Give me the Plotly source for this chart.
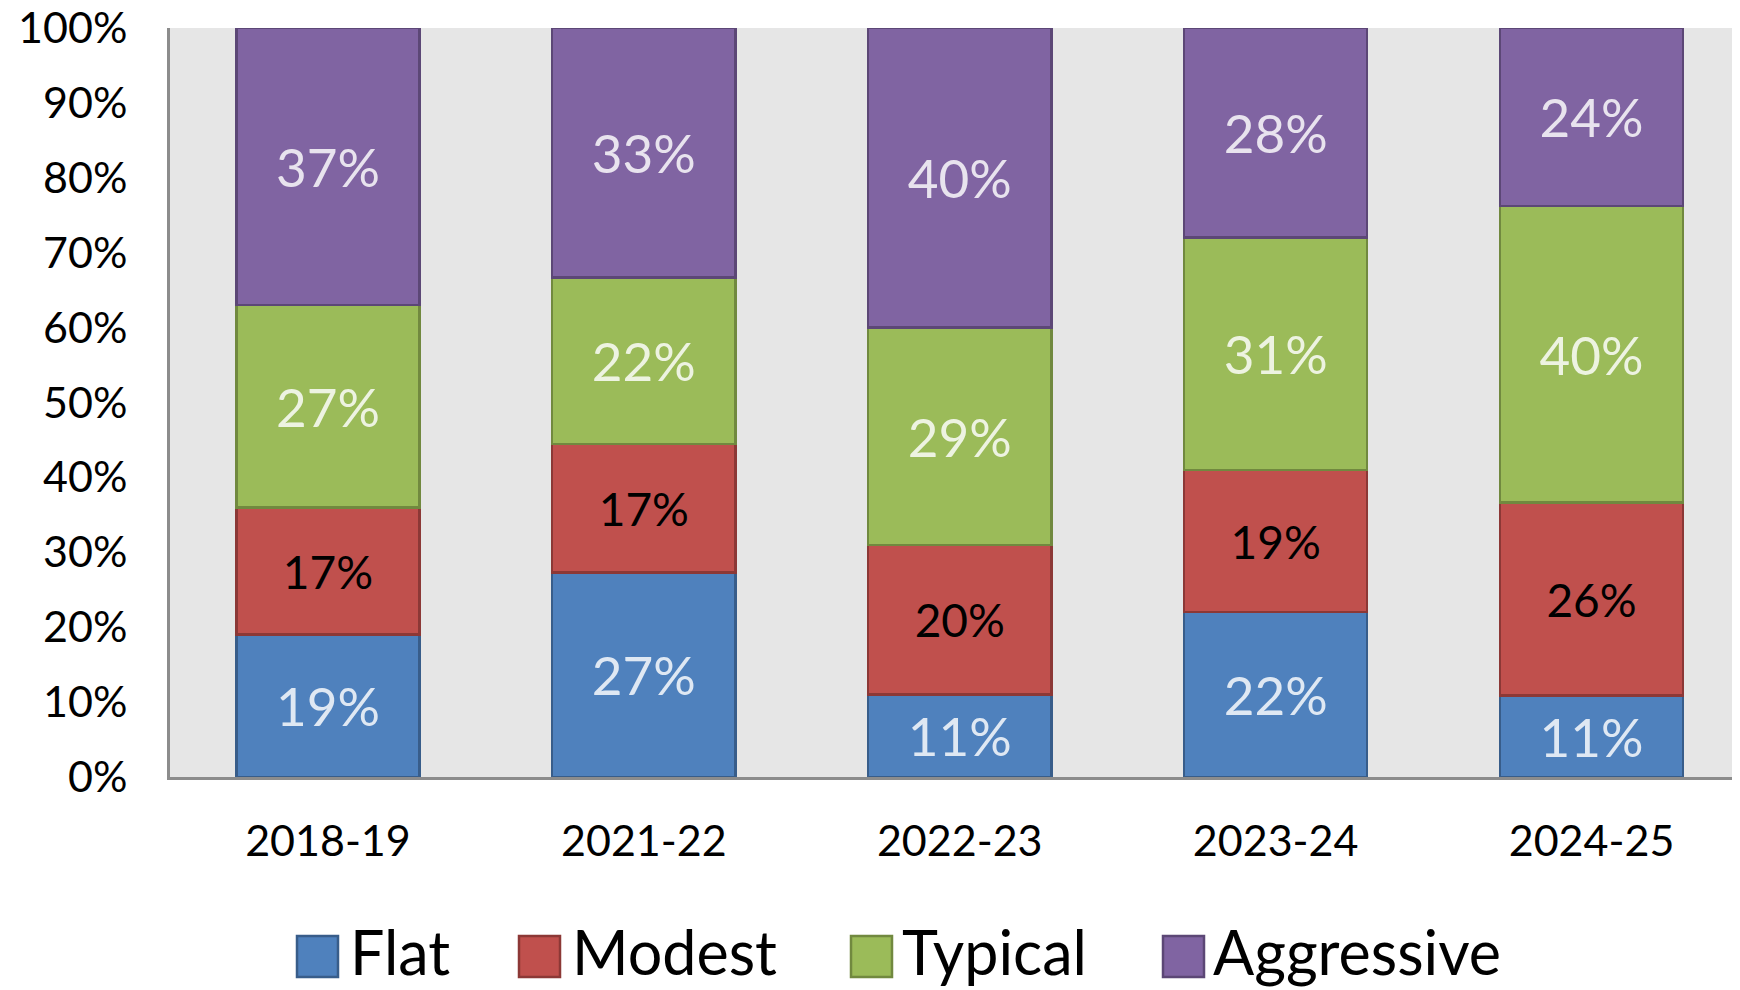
import plotly.graph_objects as go

# survey years and share of each pay-raise category (percent, as labelled)
years = ["2018-19", "2021-22", "2022-23", "2023-24", "2024-25"]
flat = [19, 27, 11, 22, 11]
modest = [17, 17, 20, 19, 26]
typical = [27, 22, 29, 31, 40]
aggressive = [37, 33, 40, 28, 24]

series = [
    ("Flat", flat, "#4F81BD", "#385D8A", "rgba(255,255,255,0.82)", 53),
    ("Modest", modest, "#C0504D", "#8C3836", "#000000", 46),
    ("Typical", typical, "#9BBB59", "#71893F", "rgba(255,255,255,0.82)", 53),
    ("Aggressive", aggressive, "#8064A2", "#5C4776", "rgba(255,255,255,0.82)", 53),
]

# page body has an 8px margin, so the figure is a bit smaller than the window
PAD = 8
W, H = 1740 - PAD, 990 - PAD
L, R, T, B = 170 - PAD, 0, 28 - PAD, 990 - 777
FONT = "Lato, Open Sans, sans-serif"


def px_to_paper(x, y):
    """convert pixel position in the window to paper coordinates"""
    x, y = x - PAD, y - PAD
    return (x - L) / (W - L - R), (H - B - y) / (H - T - B)


fig = go.Figure()
for name, vals, fill, edge, txtcol, txtsize in series:
    fig.add_trace(go.Bar(
        x=years,
        y=vals,
        name=name,
        marker=dict(color=fill, line=dict(color=edge, width=2.5)),
        text=[f"{v}%" for v in vals],
        textposition="inside",
        insidetextanchor="middle",
        constraintext="none",
        textangle=0,
        textfont=dict(family=FONT, size=txtsize, color=txtcol),
        showlegend=False,
    ))

# hand-built legend so the swatches can be as large as the reference
legend_items = [("Flat", 297, 348), ("Modest", 519, 570),
                ("Typical", 851, 900), ("Aggressive", 1163, 1211)]
colors = {s[0]: (s[2], s[3]) for s in series}
for name, sx, tx in legend_items:
    x0, y0 = px_to_paper(sx, 977)
    x1, y1 = px_to_paper(sx + 41, 936)
    fig.add_shape(type="rect", xref="paper", yref="paper",
                  x0=x0, x1=x1, y0=y0, y1=y1,
                  fillcolor=colors[name][0],
                  line=dict(color=colors[name][1], width=2.5))
    ax, ay = px_to_paper(tx, 951)
    fig.add_annotation(xref="paper", yref="paper", x=ax, y=ay,
                       text=name, showarrow=False, xanchor="left",
                       yanchor="middle",
                       font=dict(family=FONT, size=61, color="#000000"))

fig.update_layout(
    barmode="stack",
    barnorm="percent",
    bargap=0.42,
    width=W,
    height=H,
    margin=dict(l=L, r=R, t=T, b=B, autoexpand=False),
    paper_bgcolor="white",
    plot_bgcolor="#E6E6E6",
    font=dict(family=FONT, color="#000000"),
)
fig.update_xaxes(
    range=[-0.5, 4.47],
    showline=True, linecolor="#8C8C8C", linewidth=3,
    showgrid=False, ticks="",
    tickfont=dict(family=FONT, size=43),
    ticklabelstandoff=24,
)
fig.update_yaxes(
    range=[0, 100],
    tickmode="linear", tick0=0, dtick=10, ticksuffix="%",
    showline=True, linecolor="#8C8C8C", linewidth=3,
    showgrid=False, zeroline=False, ticks="",
    tickfont=dict(family=FONT, size=43),
    ticklabelstandoff=31,
    ticklabeloverflow="allow",
)

fig.write_html("out.html")
